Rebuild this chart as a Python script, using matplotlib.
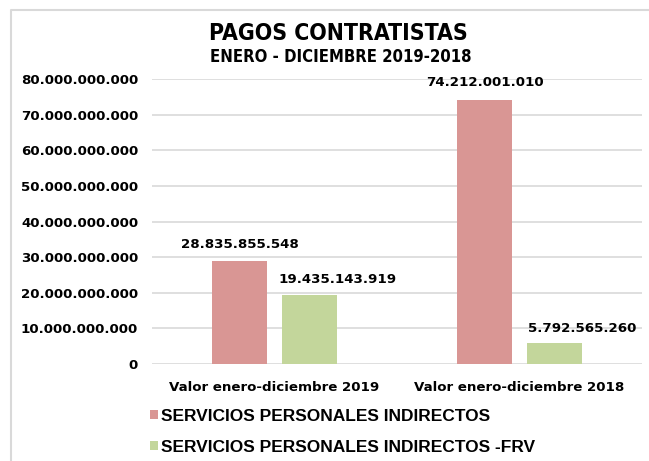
import matplotlib.pyplot as plt
from matplotlib.font_manager import FontProperties
from matplotlib.lines import Line2D
import numpy as np

categories = ['Valor enero-diciembre 2019', 'Valor enero-diciembre 2018']
series_names = ['SERVICIOS PERSONALES INDIRECTOS', 'SERVICIOS PERSONALES INDIRECTOS -FRV']
spi = [28835855548, 74212001010]
spi_frv = [19435143919, 5792565260]
yticks = [0, 10e9, 20e9, 30e9, 40e9, 50e9, 60e9, 70e9, 80e9]

colors = ['#D99694', '#C3D69B']


def fmt(v):
    return '{:,.0f}'.format(v).replace(',', '.')


fig = plt.figure(figsize=(6.49, 4.61), dpi=100)
ax = fig.add_axes([152 / 649, 1 - 364 / 461, 490 / 649, 285 / 461])

# light frame of the chart area (only left and top edges are visible)
fx, fy = 10.5 / 649, 1 - 10.5 / 461
fig.lines.append(Line2D([fx, fx, 1.0], [0, fy, fy], transform=fig.transFigure,
                        color='#D9D9D9', linewidth=1.5))

x = np.arange(len(categories))
w = 0.2245
off = 0.1418
b1 = ax.bar(x - off, spi, w, color=colors[0], label=series_names[0], zorder=2)
b2 = ax.bar(x + off, spi_frv, w, color=colors[1], label=series_names[1], zorder=2)

lab_font = dict(fontsize=9.6, fontweight='bold', color='#000000')
for rect, v in zip(b1, spi):
    ax.annotate(fmt(v), (rect.get_x() + rect.get_width() / 2, v),
                xytext=(0, 12), textcoords='offset points',
                ha='center', va='center', **lab_font)
for rect, v in zip(b2, spi_frv):
    ax.annotate(fmt(v), (rect.get_x() + rect.get_width() / 2, v),
                xytext=(20, 11), textcoords='offset points',
                ha='center', va='center', **lab_font)

ax.set_xlim(-0.5, 1.5)
ax.set_ylim(0, 80e9)
ax.set_yticks(yticks)
ax.set_yticklabels([fmt(t) for t in yticks], **lab_font)
ax.set_xticks(x)
ax.set_xticklabels(categories, **lab_font)
ax.tick_params(length=0, pad=10)
ax.tick_params(axis='x', pad=12)
ax.grid(axis='y', color='#D9D9D9', linewidth=1.2, zorder=0)
for s in ax.spines.values():
    s.set_visible(False)

fig.text(338 / 649, 1 - 34 / 461, 'PAGOS CONTRATISTAS', ha='center', va='center',
         fontsize=16.5, fontweight='bold', fontstretch='condensed')
fig.text(341 / 649, 1 - 57 / 461, 'ENERO - DICIEMBRE 2019-2018', ha='center', va='center',
         fontsize=12, fontweight='bold', fontstretch='condensed')

leg_prop = FontProperties(family='Liberation Sans', weight='bold', size=12.5)
leg = fig.legend(handles=[b1, b2], loc='upper left', bbox_to_anchor=(143 / 649, 1 - 402 / 461),
                 frameon=False, prop=leg_prop,
                 handlelength=0.45, handleheight=0.45, handletextpad=0.2, labelspacing=0.9,
                 borderaxespad=0)

fig.savefig('out.png', dpi=100)
